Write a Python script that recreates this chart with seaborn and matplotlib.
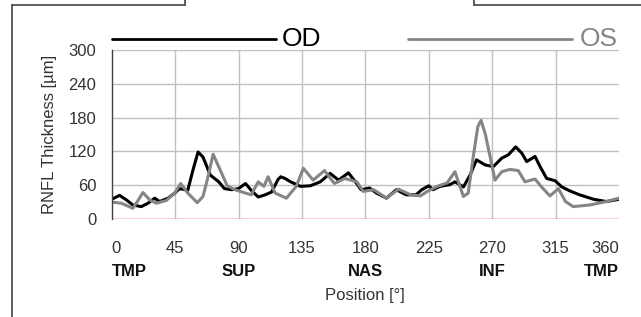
import pandas as pd
import numpy as np
import matplotlib
matplotlib.use('Agg')
import matplotlib.pyplot as plt
import seaborn as sns
from matplotlib.lines import Line2D

# RNFL thickness profiles (position in degrees)
od_pos = [0, 5.6, 10.4, 15, 21, 25.8, 30.5, 34, 40, 44.7, 48.2, 54, 57.7, 61.3, 64.8, 70, 76, 80, 85, 90,
          95, 99, 104, 109, 113.5, 118, 120, 123, 127, 134, 141, 148, 155, 161, 168, 173, 177,
          183, 188, 195, 202, 209, 216, 220, 225, 228, 233, 240, 243.6, 249.6, 254.3, 258.9, 265, 270.8,
          276.8, 281.5, 286.7, 291, 294.5, 300.4, 304, 308.7, 314.6, 319.4, 325, 332, 342, 351, 360]
od_val = [35, 42, 34, 25, 22, 28, 37, 31, 37, 46, 54, 51, 87, 119, 110, 78, 66, 54, 52, 54,
          63, 51, 39, 43, 48, 70, 75, 72, 66, 58, 59, 66, 81, 69, 82, 66, 52,
          55, 46, 37, 52, 43, 43, 52, 59, 52, 58, 61, 66, 57, 78, 105, 96, 93,
          108, 114, 128, 117, 102, 111, 93, 72, 68, 57, 50, 43, 35, 31, 35]

os_pos = [0, 7, 15, 18.5, 22.2, 27, 31.7, 38.8, 44.7, 49, 54, 60.8, 64.8, 68.4, 72, 77, 82, 87.5, 95,
          99, 104, 108, 111, 116, 124, 131, 136, 143, 151, 158, 165.5, 174, 178.5, 186, 195, 203.5,
          212, 219, 224, 231, 238, 243.6, 246, 249.6, 253, 256.6, 259.8, 262.1, 265, 268.5, 272,
          276.8, 282.6, 288.5, 293.3, 300.4, 305, 311, 317, 322, 327.5, 339.5, 351, 360]
os_val = [30, 28, 19, 32, 47, 34, 28, 33, 46, 63, 46, 29, 40, 75, 115, 87, 59, 52, 46,
          43, 66, 58, 75, 46, 37, 58, 90, 69, 86, 63, 72, 66, 49, 52, 37, 53,
          43, 41, 49, 58, 64, 84, 66, 40, 46, 111, 164, 175, 152, 111, 69,
          84, 88, 86, 66, 71, 57, 41, 54, 31, 22, 25, 31, 37]

x_ticks = [0, 45, 90, 135, 180, 225, 270, 315, 360]
y_ticks = [0, 60, 120, 180, 240, 300]
region_pos = [0, 90, 180, 270, 360]
region_labels = ['TMP', 'SUP', 'NAS', 'INF', 'TMP']

df = pd.concat([
    pd.DataFrame({'pos': od_pos, 'val': od_val, 'eye': 'OD'}),
    pd.DataFrame({'pos': os_pos, 'val': os_val, 'eye': 'OS'}),
])

sns.set_style('white')
plt.rcParams['font.family'] = ['Liberation Sans', 'DejaVu Sans']
txt = '#333333'

fig = plt.figure(figsize=(6.41, 3.17), dpi=100)
ax = fig.add_axes([0.1742, 0.3091, 0.7915, 0.5332])

# grid drawn by hand (no line at the 360 edge)
for x in x_ticks[1:-1]:
    ax.axvline(x, color='#c0c0c0', lw=1, zorder=0)
for y in y_ticks[1:]:
    ax.axhline(y, color='#c0c0c0', lw=1, zorder=0)
ax.axhline(0, color='#e8141c', lw=1, zorder=1)

sns.lineplot(data=df, x='pos', y='val', hue='eye', palette={'OD': 'black', 'OS': '#858585'},
             hue_order=['OD', 'OS'], lw=2.2, legend=False, ax=ax, sort=False, estimator=None,
             solid_joinstyle='round', solid_capstyle='round')

ax.set_xlim(0, 360)
ax.set_ylim(0, 300)
ax.set_xticks(x_ticks)
ax.set_yticks(y_ticks)
ax.tick_params(axis='x', direction='out', length=7, width=1, color='#404040', pad=9,
               labelsize=12, labelcolor=txt)
ax.tick_params(axis='y', direction='out', length=7, width=1, color='#404040', pad=4,
               labelsize=12, labelcolor=txt)
xlabels = ax.get_xticklabels()
xlabels[0].set_ha('left')
xlabels[-1].set_ha('right')
for s in ['top', 'right', 'bottom']:
    ax.spines[s].set_visible(False)
ax.spines['left'].set_color('#404040')
ax.spines['left'].set_linewidth(1)

ax.set_xlabel('')
ax.set_ylabel('RNFL Thickness [µm]', fontsize=12, color=txt)
ax.yaxis.set_label_coords(-0.108, 0.5)

tr = ax.get_xaxis_transform()
for i, (p, lab) in enumerate(zip(region_pos, region_labels)):
    ha = 'left' if i == 0 else ('right' if i == len(region_pos) - 1 else 'center')
    ax.text(p, -0.312, lab, transform=tr, ha=ha, va='center', fontsize=12,
            fontweight='bold', color='#111111')
ax.text(180, -0.45, 'Position [°]', transform=tr, ha='center', va='center', fontsize=12, color=txt)

# header legend
ax.plot([0.0, 0.324], [1.065, 1.065], transform=ax.transAxes, color='black', lw=2, clip_on=False)
ax.text(0.336, 1.065, 'OD', transform=ax.transAxes, ha='left', va='center', fontsize=19, color='black')
ax.plot([0.584, 0.908], [1.065, 1.065], transform=ax.transAxes, color='#858585', lw=2, clip_on=False)
ax.text(0.922, 1.065, 'OS', transform=ax.transAxes, ha='left', va='center', fontsize=19, color='#858585')

# frame fragments around the chart
W, H = 641.0, 317.0
def seg(x0, y0, x1, y1):
    fig.add_artist(Line2D([x0 / W, x1 / W], [1 - y0 / H, 1 - y1 / H], color='#444444', lw=1.2))
seg(12, 5, 12, 317)
seg(12, 5, 185, 5)
seg(185, 0, 185, 5)
seg(474, 0, 474, 5)
seg(474, 5, 641, 5)

plt.savefig('out.png', dpi=100)
plt.close('all')
